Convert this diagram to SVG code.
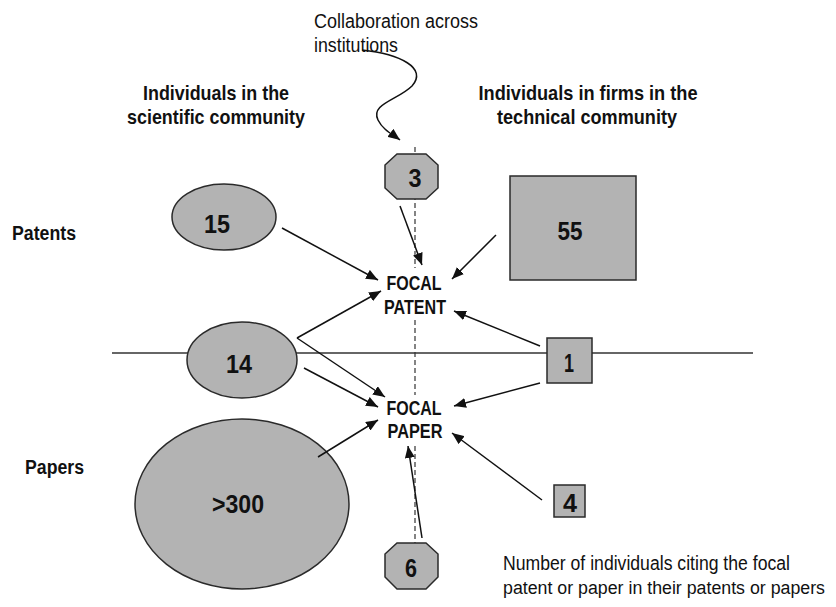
<svg xmlns="http://www.w3.org/2000/svg" width="836" height="607" viewBox="0 0 836 607">
<style>
.n{fill:#b3b3b3;stroke:#2a2a2a;stroke-width:1.5}
.t{font-family:"Liberation Sans",Arial,sans-serif;fill:#111}
.b{font-weight:bold}
.num{font-family:"Liberation Sans",Arial,sans-serif;font-weight:bold;font-size:26px;fill:#111;text-anchor:middle}
.c{stroke:#111;stroke-width:1.5;fill:none;marker-end:url(#ah)}
.dash{stroke:#333;stroke-width:1.2;stroke-dasharray:5,3;fill:none}
</style>
<defs>
<marker id="ah" viewBox="0 0 12 10" refX="12" refY="5" markerWidth="12" markerHeight="10" markerUnits="userSpaceOnUse" orient="auto">
<path d="M0,0 L12,5 L0,10 z" fill="#111"/>
</marker>
</defs>
<rect width="836" height="607" fill="#fff"/>
<g id="axes">
<line x1="112" y1="353" x2="753" y2="353" stroke="#333" stroke-width="1.3"/>
<path class="dash" d="M415,147 V268 M415,320 V395 M415,446 V543"/>
</g>
<g id="labels">
<text class="t" x="314" y="28" font-size="20" textLength="164" lengthAdjust="spacingAndGlyphs">Collaboration across</text>
<text class="t" x="314" y="52" font-size="20" textLength="84" lengthAdjust="spacingAndGlyphs">institutions</text>
<text class="t b" x="216" y="100" font-size="21" text-anchor="middle" textLength="146" lengthAdjust="spacingAndGlyphs">Individuals in the</text>
<text class="t b" x="216" y="124" font-size="21" text-anchor="middle" textLength="178" lengthAdjust="spacingAndGlyphs">scientific community</text>
<text class="t b" x="588" y="100" font-size="21" text-anchor="middle" textLength="219" lengthAdjust="spacingAndGlyphs">Individuals in firms in the</text>
<text class="t b" x="587" y="124" font-size="21" text-anchor="middle" textLength="180" lengthAdjust="spacingAndGlyphs">technical community</text>
<text class="t b" x="12" y="240" font-size="20" textLength="64" lengthAdjust="spacingAndGlyphs">Patents</text>
<text class="t b" x="25" y="474" font-size="20" textLength="59" lengthAdjust="spacingAndGlyphs">Papers</text>
<text class="t b" x="414" y="290" font-size="20" text-anchor="middle" textLength="55" lengthAdjust="spacingAndGlyphs">FOCAL</text>
<text class="t b" x="415" y="314" font-size="20" text-anchor="middle" textLength="62" lengthAdjust="spacingAndGlyphs">PATENT</text>
<text class="t b" x="414" y="415" font-size="20" text-anchor="middle" textLength="55" lengthAdjust="spacingAndGlyphs">FOCAL</text>
<text class="t b" x="415" y="438" font-size="20" text-anchor="middle" textLength="55" lengthAdjust="spacingAndGlyphs">PAPER</text>
<text class="t" x="503" y="570" font-size="20" textLength="287" lengthAdjust="spacingAndGlyphs">Number of individuals citing the focal</text>
<text class="t" x="503" y="594" font-size="18" textLength="322" lengthAdjust="spacingAndGlyphs">patent or paper in their patents or papers</text>
</g>
<g id="node-15">
<ellipse class="n" cx="224" cy="217" rx="52" ry="33"/>
<text class="num" x="217" y="233" textLength="26" lengthAdjust="spacingAndGlyphs">15</text>
</g>
<g id="node-14">
<ellipse class="n" cx="242" cy="360" rx="55" ry="38"/>
<text class="num" x="239" y="373" textLength="26" lengthAdjust="spacingAndGlyphs">14</text>
</g>
<g id="node-300">
<ellipse class="n" cx="242" cy="504" rx="107" ry="85"/>
<text class="num" x="238" y="513" textLength="52" lengthAdjust="spacingAndGlyphs">&gt;300</text>
</g>
<g id="node-55">
<rect class="n" x="510" y="176" width="126" height="104"/>
<text class="num" x="570" y="240" textLength="25" lengthAdjust="spacingAndGlyphs">55</text>
</g>
<g id="node-1">
<rect class="n" x="547" y="338" width="45" height="45"/>
<text class="num" x="569" y="372" textLength="10" lengthAdjust="spacingAndGlyphs">1</text>
</g>
<g id="node-4">
<rect class="n" x="554" y="485" width="31" height="32"/>
<text class="num" x="570" y="512" textLength="14" lengthAdjust="spacingAndGlyphs">4</text>
</g>
<g id="node-3">
<polygon class="n" points="397,154 426,154 438,165 438,188 426,199 397,199 385,188 385,165"/>
<text class="num" x="415" y="187" textLength="13" lengthAdjust="spacingAndGlyphs">3</text>
</g>
<g id="node-6">
<polygon class="n" points="397,543 426,543 438,554 438,577 426,589 397,589 385,577 385,554"/>
<text class="num" x="411" y="577" textLength="12" lengthAdjust="spacingAndGlyphs">6</text>
</g>
<g id="connectors">
<path class="c" d="M362,50 C400,54 428,68 412,86 C398,100 370,104 378,120 C383,130 392,134 400,140"/>
<line class="c" x1="282" y1="228" x2="378" y2="280"/>
<line class="c" x1="496" y1="235" x2="452" y2="279"/>
<line class="c" x1="400" y1="206" x2="422" y2="265"/>
<line class="c" x1="540" y1="346" x2="454" y2="311"/>
<line class="c" x1="540" y1="383" x2="454" y2="406"/>
<line class="c" x1="297" y1="338" x2="381" y2="291"/>
<line class="c" x1="297" y1="338" x2="385" y2="397"/>
<line class="c" x1="304" y1="368" x2="378" y2="407"/>
<line class="c" x1="318" y1="457" x2="378" y2="420"/>
<line class="c" x1="422" y1="538" x2="408" y2="446"/>
<line class="c" x1="542" y1="500" x2="452" y2="433"/>
</g>
</svg>
